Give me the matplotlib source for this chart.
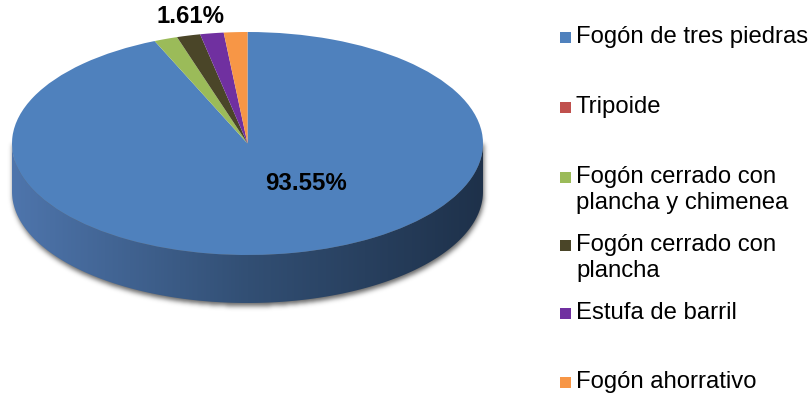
import numpy as np
import matplotlib.pyplot as plt
from matplotlib.patches import Rectangle, Polygon

plt.rcParams['font.family'] = ['Liberation Sans', 'DejaVu Sans']

categories = ["Fogón de tres piedras", "Tripoide",
              "Fogón cerrado con\nplancha y chimenea",
              "Fogón cerrado con\nplancha", "Estufa de barril",
              "Fogón ahorrativo"]
counts = [58, 0, 1, 1, 1, 1]
colors = ["#4f81bd", "#c0504d", "#9bbb59", "#4a4528", "#7030a0", "#f79646"]
shares = np.array(counts) / sum(counts) * 100

W, H = 812, 398
fig = plt.figure(figsize=(W / 100, H / 100), dpi=100)

# geometry of the tilted disc, in pixels
cx, cy = 247.5, 143.5
rx, ry = 235.5, 111.5
depth = 48

# background axes in pixel coordinates (shadow, legend)
bg = fig.add_axes([0, 0, 1, 1])
bg.set_xlim(0, W)
bg.set_ylim(H, 0)
bg.axis('off')

# soft drop shadow under the side wall
yy, xx = np.mgrid[0:H, 0:W] + 0.5
u = (xx - cx - 1) / rx
inside = np.abs(u) < 1
half = ry * np.sqrt(np.clip(1 - u ** 2, 0, 1))
mask = (inside & (yy > cy) & (yy < cy + depth + 3 + half)).astype(float)
k = np.exp(-0.5 * (np.arange(-9, 10) / 2.5) ** 2)
k /= k.sum()
mask = np.apply_along_axis(lambda r: np.convolve(r, k, mode='same'), 1, mask)
mask = np.apply_along_axis(lambda c: np.convolve(c, k, mode='same'), 0, mask)
shadow = np.zeros((H, W, 4))
shadow[..., 3] = mask * 0.6
bg.imshow(shadow, extent=(0, W, H, 0), interpolation='bilinear', zorder=1)

# pie axes: unit circle stretched into the ellipse, with room for the side
dd = depth / ry
pa = fig.add_axes([(cx - rx) / W, (H - (cy + ry + depth)) / H,
                   2 * rx / W, (2 * ry + depth) / H])
pa.set_zorder(2)

# side wall with a left-to-right gradient
t = np.linspace(np.pi, 2 * np.pi, 200)
side = np.concatenate([np.column_stack([np.cos(t), np.sin(t)]),
                       np.column_stack([np.cos(t[::-1]), np.sin(t[::-1]) - dd])])
side_poly = Polygon(side, closed=True, facecolor='none', edgecolor='none')
pa.add_patch(side_poly)
stops = np.array([[78, 117, 172], [50, 79, 116], [30, 49, 74]]) / 255
g = np.linspace(0, 1, 300)
grad = np.stack([np.interp(g, [0, 0.5, 1], stops[:, i]) for i in range(3)], axis=-1)
grad = np.tile(grad[None, :, :], (10, 1, 1))
im = pa.imshow(grad, extent=(-1, 1, -1 - dd, 0), aspect='auto',
               interpolation='bilinear')
im.set_clip_path(side_poly)

pa.pie(counts, colors=colors, startangle=90, counterclock=False, radius=1)
pa.set_aspect('auto')
pa.set_xlim(-1, 1)
pa.set_ylim(-1 - dd, 1)
pa.axis('off')

# value labels
pa.text(0.25, -0.355, f"{shares[0]:.2f}%", ha='center', va='center',
        fontsize=17.3, fontweight='bold', clip_on=False)
pa.text(-0.244, 1.135, f"{shares[2]:.2f}%", ha='center', va='center',
        fontsize=17.3, fontweight='bold', clip_on=False)

# legend
legend_y = [37, 107, 177, 245, 313, 382]
for name, col, y0 in zip(categories, colors, legend_y):
    bg.add_patch(Rectangle((560, y0 - 5.5), 11, 11, facecolor=col,
                           edgecolor='none', zorder=3))
    for j, line in enumerate(name.split("\n")):
        bg.text(576, y0 + j * 26.5, line, ha='left', va='center',
                fontsize=17.2, zorder=3)

fig.savefig("out.png", dpi=100)
